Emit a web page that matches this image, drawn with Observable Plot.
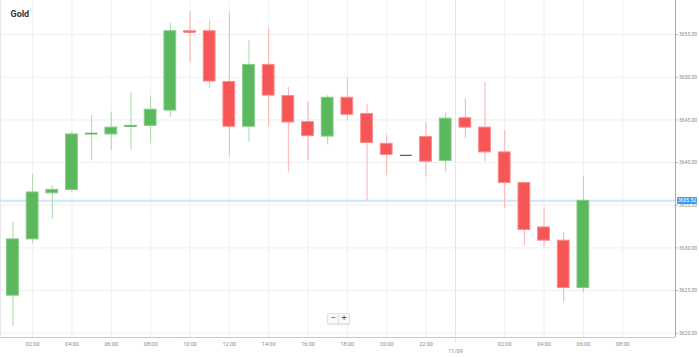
<!DOCTYPE html>
<html>
<head>
<meta charset="utf-8">
<script src="https://cdn.jsdelivr.net/npm/d3@7"></script>
<script src="https://cdn.jsdelivr.net/npm/@observablehq/plot@0.6"></script>
<style>
  html, body { margin: 0; padding: 0; background: #fff; }
  #wrap { position: relative; width: 699px; height: 357px; font-family: Roboto, sans-serif; }
  .zbtn { position: absolute; top: 313px; width: 10px; height: 9px; border: 1px solid #e2e2e2; background: #fafafa;
          color: #555; font-size: 9px; line-height: 9px; text-align: center; box-shadow: 0 1px 1px rgba(0,0,0,0.08); }
  #price { position: absolute; left: 677px; width: 20px; height: 7px; background: #3b9bf0; color: #fff;
           font-size: 5px; line-height: 7px; text-align: center; border-radius: 1px; }
</style>
</head>
<body>
<div id="wrap"></div>
<script>
// ---- data (hourly candles, Gold) ----
const title = "Gold";
const times = [
  "2025-09-10T01:00Z","2025-09-10T02:00Z","2025-09-10T03:00Z","2025-09-10T04:00Z","2025-09-10T05:00Z",
  "2025-09-10T06:00Z","2025-09-10T07:00Z","2025-09-10T08:00Z","2025-09-10T09:00Z","2025-09-10T10:00Z",
  "2025-09-10T11:00Z","2025-09-10T12:00Z","2025-09-10T13:00Z","2025-09-10T14:00Z","2025-09-10T15:00Z",
  "2025-09-10T16:00Z","2025-09-10T17:00Z","2025-09-10T18:00Z","2025-09-10T19:00Z","2025-09-10T20:00Z",
  "2025-09-10T21:00Z","2025-09-10T22:00Z","2025-09-10T23:00Z","2025-09-11T00:00Z","2025-09-11T01:00Z",
  "2025-09-11T02:00Z","2025-09-11T03:00Z","2025-09-11T04:00Z","2025-09-11T05:00Z","2025-09-11T06:00Z"
];
const open  = [3624.4,3631.0,3636.4,3636.8,3643.3,3643.3,3644.2,3644.3,3646.1,3655.4,
               3655.4,3649.45,3644.2,3651.45,3647.8,3644.75,3643.05,3647.6,3645.7,3642.2,
               3640.85,3643.0,3640.2,3645.2,3644.1,3641.2,3637.6,3632.4,3630.85,3625.3];
const high  = [3633.0,3638.6,3637.3,3643.6,3645.5,3645.9,3648.2,3647.8,3656.3,3657.7,
               3656.7,3657.5,3654.3,3655.7,3648.8,3647.1,3647.85,3649.9,3646.8,3643.2,
               3640.85,3644.7,3645.8,3647.5,3649.4,3643.75,3637.7,3634.7,3631.8,3638.35];
const low   = [3620.8,3630.5,3633.4,3636.5,3640.2,3641.4,3641.5,3642.2,3645.3,3651.75,
               3648.7,3640.8,3642.4,3644.2,3638.9,3640.2,3642.1,3644.9,3635.5,3638.5,
               3640.85,3638.3,3638.9,3642.8,3640.1,3634.6,3630.3,3630.0,3623.6,3624.75];
const close = [3631.0,3636.5,3636.8,3643.3,3643.4,3644.1,3644.3,3646.2,3655.4,3655.3,
               3649.5,3644.2,3651.45,3647.85,3644.7,3643.1,3647.6,3645.6,3642.3,3640.9,
               3640.85,3640.1,3645.15,3644.1,3641.2,3637.6,3632.1,3630.85,3625.3,3635.52];
const yTicks = [3620,3625,3630,3635,3640,3645,3650,3655];
const xTickTimes = [
  "2025-09-10T02:00Z","2025-09-10T04:00Z","2025-09-10T06:00Z","2025-09-10T08:00Z","2025-09-10T10:00Z",
  "2025-09-10T12:00Z","2025-09-10T14:00Z","2025-09-10T16:00Z","2025-09-10T18:00Z","2025-09-10T20:00Z",
  "2025-09-10T22:00Z","2025-09-11T02:00Z","2025-09-11T04:00Z","2025-09-11T06:00Z","2025-09-11T08:00Z"
];
const dateMarks = ["2025-09-10T23:30Z"];
const dateLabels = ["11/09"];
const xDomain = ["2025-09-10T00:22Z", "2025-09-11T10:41Z"];
const yDomain = [3619.5, 3659];

// ---- build ----
const candles = times.map((t, i) => ({
  date: new Date(t), open: open[i], high: high[i], low: low[i], close: close[i]
}));
const HALF = 18 * 60 * 1000;
const bodyFill = d => d.close > d.open ? "#5cb85c" : d.close < d.open ? "#f75656" : "#555555";
const bodyStroke = d => d.close > d.open ? "#86cc86" : d.close < d.open ? "#fb8c8c" : "#555555";
const wickColor = d => d.close > d.open ? "#a6dba6" : d.close < d.open ? "#fbb0b0" : "#777777";
const xTicks = xTickTimes.map(t => new Date(t));
const lastClose = close[close.length - 1];

const chart = Plot.plot({
  width: 699,
  height: 357,
  marginLeft: 0,
  marginRight: 24,
  marginTop: 0,
  marginBottom: 20,
  style: { fontFamily: "Roboto, sans-serif", background: "#fff" },
  x: { type: "utc", domain: xDomain.map(t => new Date(t)) },
  y: { domain: yDomain },
  marks: [
    Plot.gridY(yTicks, { stroke: "#efefef", strokeOpacity: 1 }),
    Plot.gridX(xTicks, { stroke: "#f0f0f0", strokeOpacity: 1 }),
    Plot.gridX(dateMarks.map(t => new Date(t)), { stroke: "#e4e4e4", strokeOpacity: 1 }),
    Plot.ruleX([new Date(xDomain[0])], { stroke: "#e8e8e8" }),
    Plot.ruleY([lastClose], { stroke: "#cfe5f9", strokeWidth: 2 }),
    Plot.ruleX(candles, { x: "date", y1: "low", y2: "high", stroke: wickColor, strokeWidth: 1 }),
    Plot.rect(candles, {
      x1: d => new Date(+d.date - HALF), x2: d => new Date(+d.date + HALF),
      y1: "open", y2: "close", fill: bodyFill, stroke: bodyStroke, strokeWidth: 1
    }),
    Plot.ruleY(candles.filter(d => Math.abs(d.close - d.open) < 0.25), {
      y: "close", x1: d => new Date(+d.date - HALF), x2: d => new Date(+d.date + HALF),
      stroke: bodyFill, strokeWidth: 1.2
    }),
    Plot.ruleY([yDomain[0]], { stroke: "#c8c8c8", strokeWidth: 1 }),
    Plot.ruleX([new Date(xDomain[1])], { stroke: "#a8a8a8", strokeWidth: 1 }),
    Plot.axisY(yTicks, {
      anchor: "right", tickFormat: d => d.toFixed(2), tickSize: 2, tickPadding: 1.5,
      fontSize: 5, fill: "#8a8a8a", stroke: "#b0b0b0", label: null
    }),
    Plot.axisX(xTicks, {
      anchor: "bottom", tickFormat: d3.utcFormat("%H:%M"), tickSize: 0, tickPadding: 5,
      fontSize: 5.5, fill: "#8a8a8a", label: null
    }),
    Plot.axisX(dateMarks.map(t => new Date(t)), {
      anchor: "bottom", tickFormat: (d, i) => dateLabels[i], tickSize: 6, tickPadding: 6,
      fontSize: 5.5, fill: "#8a8a8a", stroke: "#c8c8c8", strokeDasharray: "1,1", label: null
    }),
    Plot.text([title], {
      text: d => d, frameAnchor: "top-left", dx: 10, dy: 10, textAnchor: "start",
      fontWeight: "bold", fontSize: 9, fill: "#333"
    })
  ]
});

const wrap = document.getElementById("wrap");
wrap.appendChild(chart);

// current price tag, positioned through the y scale
const yPos = chart.scale("y").apply(lastClose);
const tag = document.createElement("div");
tag.id = "price";
tag.textContent = lastClose.toFixed(2);
tag.style.top = (yPos - 3.5) + "px";
wrap.appendChild(tag);

// zoom buttons
[["\u2212", 327], ["+", 338]].forEach(([g, left]) => {
  const b = document.createElement("div");
  b.className = "zbtn";
  b.textContent = g;
  b.style.left = left + "px";
  wrap.appendChild(b);
});
</script>
</body>
</html>
